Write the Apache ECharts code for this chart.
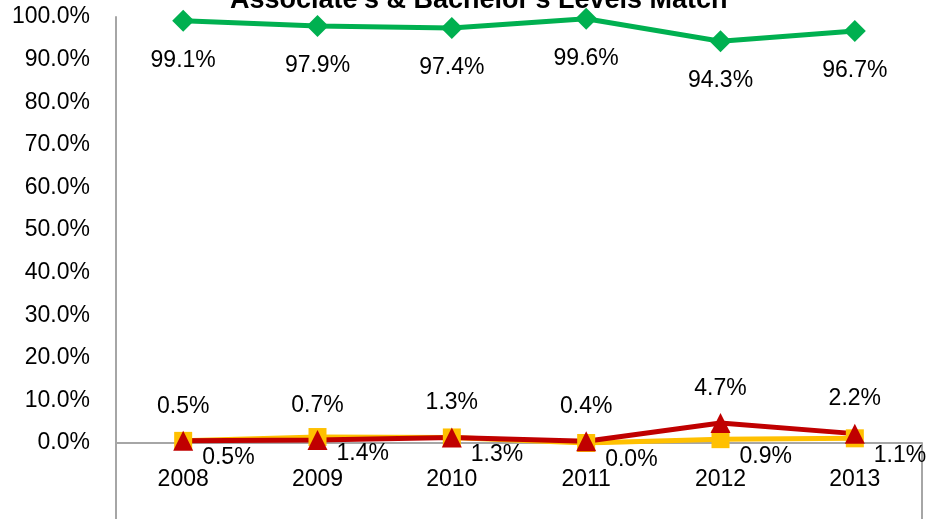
<!DOCTYPE html>
<html>
<head>
<meta charset="utf-8">
<script src="https://cdn.jsdelivr.net/npm/echarts@6/dist/echarts.min.js"></script>
<style>
  html, body { margin: 0; padding: 0; background: #fff; }
  #chart { width: 926px; height: 519px; }
</style>
</head>
<body>
<div id="chart"></div>
<script>
  // 数据
  var years = ['2008', '2009', '2010', '2011', '2012', '2013'];
  var matchValues = [99.1, 97.9, 97.4, 99.6, 94.3, 96.7];     // 绿色
  var yellowValues = [0.5, 1.4, 1.3, 0.0, 0.9, 1.1];          // 黄色
  var redValues = [0.5, 0.7, 1.3, 0.4, 4.7, 2.2];             // 红色

  var font = 'Liberation Sans';
  var pct = function (p) { return p.value.toFixed(1) + '%'; };

  var chart = echarts.init(document.getElementById('chart'));
  chart.setOption({
    animation: false,
    title: {
      text: "Associate's & Bachelor's Levels Match",
      left: 225,
      top: -18,
      textStyle: { fontFamily: font, fontSize: 27, fontWeight: 'bold', color: '#000' }
    },
    grid: { left: 116, right: 4, top: 17, bottom: 76 },
    xAxis: {
      type: 'category',
      data: years,
      boundaryGap: true,
      axisLine: { lineStyle: { color: '#a6a6a6', width: 2 } },
      axisTick: {
        show: true,
        length: 76,
        interval: function (i) { return i === 0; },
        lineStyle: { color: '#a6a6a6', width: 2 }
      },
      axisLabel: { fontFamily: font, fontSize: 23, color: '#000', margin: 25 }
    },
    yAxis: {
      type: 'value',
      min: 0,
      max: 100,
      interval: 10,
      axisLine: { show: true, lineStyle: { color: '#a6a6a6', width: 2 } },
      axisTick: { show: false },
      splitLine: { show: false },
      axisLabel: {
        fontFamily: font, fontSize: 23, color: '#000', margin: 26,
        formatter: function (v) { return v.toFixed(1) + '%'; }
      }
    },
    series: [
      {
        name: 'yellow',
        type: 'line',
        data: yellowValues,
        symbol: 'rect',
        symbolSize: 18,
        lineStyle: { color: '#FFC000', width: 5 },
        itemStyle: { color: '#FFC000' },
        label: {
          show: true, position: 'right', distance: 10, offset: [0, 17],
          fontFamily: font, fontSize: 23, color: '#000', formatter: pct
        }
      },
      {
        name: 'red',
        type: 'line',
        data: redValues,
        symbol: 'triangle',
        symbolSize: 20,
        lineStyle: { color: '#C00000', width: 5 },
        itemStyle: { color: '#C00000' },
        label: {
          show: true, position: 'top', distance: 13,
          fontFamily: font, fontSize: 23, color: '#000', formatter: pct
        }
      },
      {
        name: 'green',
        type: 'line',
        data: matchValues,
        symbol: 'diamond',
        symbolSize: 22,
        lineStyle: { color: '#00B050', width: 5 },
        itemStyle: { color: '#00B050' },
        label: {
          show: true, position: 'bottom', distance: 17,
          fontFamily: font, fontSize: 23, color: '#000', formatter: pct
        }
      }
    ]
  });
</script>
</body>
</html>
